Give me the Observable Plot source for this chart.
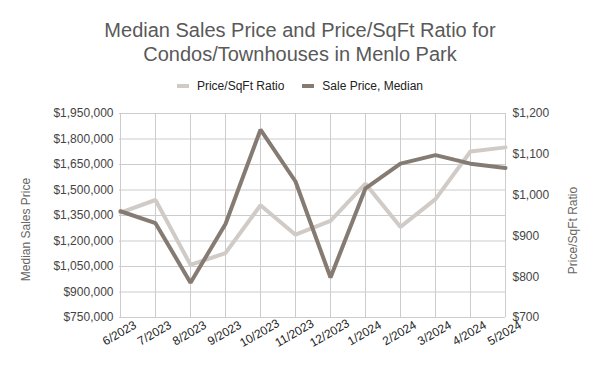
<!DOCTYPE html>
<html>
<head>
<meta charset="utf-8">
<script src="https://cdn.jsdelivr.net/npm/d3@7"></script>
<script src="https://cdn.jsdelivr.net/npm/@observablehq/plot@0.6"></script>
<style>
  body { margin: 0; background: #fff; font-family: "Liberation Sans", Arial, sans-serif; }
  #wrap { position: relative; width: 600px; height: 371px; overflow: hidden; }
  #title { position: absolute; top: 18px; left: 0; width: 600px; text-align: center; font-size: 20px; line-height: 24px; color: #595959; }
  #legend { position: absolute; top: 78px; left: 0; width: 600px; height: 16px; display: flex; justify-content: center; align-items: center; font-size: 12px; color: #222; }
  .item { display: flex; align-items: center; margin: 0 9px; }
  .sw { width: 12px; height: 4px; margin-right: 8px; }
  #chart { position: absolute; top: 95px; left: 0; }
</style>
</head>
<body>
<div id="wrap">
  <div id="title">Median Sales Price and Price/SqFt Ratio for<br>Condos/Townhouses in Menlo Park</div>
  <div id="legend"></div>
  <div id="chart"></div>
</div>
<script>
const months = ["6/2023","7/2023","8/2023","9/2023","10/2023","11/2023","12/2023","1/2024","2/2024","3/2024","4/2024","5/2024"];
const salePrice = [1375000, 1305000, 955000, 1300000, 1855000, 1550000, 985000, 1510000, 1655000, 1705000, 1655000, 1630000];
const pricePerSqft = [957, 988, 829, 858, 975, 903, 937, 1028, 922, 990, 1107, 1117];
const leftTicks = [750000, 900000, 1050000, 1200000, 1350000, 1500000, 1650000, 1800000, 1950000];
const rightTicks = [700, 800, 900, 1000, 1100, 1200];
const seriesNames = ["Price/SqFt Ratio", "Sale Price, Median"];
const colors = ["#d1cbc7", "#857b72"];

// map right-axis (ratio) domain [700,1200] onto left-axis domain [750000,1950000]
const leftDomain = [750000, 1950000];
const rightDomain = [700, 1200];
const toLeft = r => leftDomain[0] + (r - rightDomain[0]) * (leftDomain[1] - leftDomain[0]) / (rightDomain[1] - rightDomain[0]);
const toRight = p => rightDomain[0] + (p - leftDomain[0]) * (rightDomain[1] - rightDomain[0]) / (leftDomain[1] - leftDomain[0]);

const priceData = months.map((m, i) => ({month: m, value: salePrice[i]}));
const ratioData = months.map((m, i) => ({month: m, value: pricePerSqft[i]}));

const legend = document.getElementById("legend");
seriesNames.forEach((n, i) => {
  const it = document.createElement("div");
  it.className = "item";
  it.innerHTML = `<span class="sw" style="background:${colors[i]}"></span><span>${n}</span>`;
  legend.appendChild(it);
});

const fmtMoney = d3.format("$,");
const font = "Liberation Sans, Arial, sans-serif";

const chart = Plot.plot({
  width: 600,
  height: 276,
  marginTop: 18,
  marginBottom: 54,
  marginLeft: 119,
  marginRight: 95,
  style: {fontFamily: font, fontSize: "12px", background: "transparent"},
  x: {type: "point", domain: months, padding: 0, axis: null},
  y: {domain: leftDomain, axis: null},
  marks: [
    Plot.gridY(leftTicks, {stroke: "#cccccc", strokeOpacity: 1}),
    Plot.gridX(months, {stroke: "#cccccc", strokeOpacity: 1}),
    Plot.axisY({anchor: "left", ticks: leftTicks, tickFormat: fmtMoney, tickSize: 0, tickPadding: 6, label: null, fill: "#444", fontSize: 12}),
    Plot.axisY({anchor: "right", ticks: rightTicks.map(toLeft), tickFormat: p => fmtMoney(Math.round(toRight(p))), tickSize: 0, tickPadding: 7, label: null, fill: "#444", fontSize: 12}),
    Plot.text(months, {x: d => d, frameAnchor: "bottom", dy: 19, dx: 1, rotate: -30, textAnchor: "middle", fill: "#222", fontSize: 12}),
    Plot.text(["Median Sales Price"], {frameAnchor: "left", textAnchor: "middle", dx: -93, dy: 14, rotate: -90, fill: "#666", fontSize: 12}),
    Plot.text(["Price/SqFt Ratio"], {frameAnchor: "right", textAnchor: "middle", dx: 68, dy: 15, rotate: -90, fill: "#666", fontSize: 12}),
    Plot.line(ratioData, {x: "month", y: d => toLeft(d.value), stroke: colors[0], strokeWidth: 4, strokeLinejoin: "miter"}),
    Plot.line(priceData, {x: "month", y: "value", stroke: colors[1], strokeWidth: 4, strokeLinejoin: "miter"})
  ]
});
document.getElementById("chart").appendChild(chart);
</script>
</body>
</html>
